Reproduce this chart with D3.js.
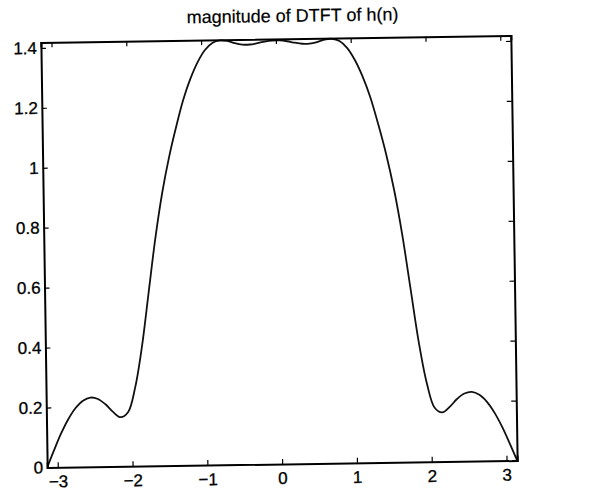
<!DOCTYPE html>
<html>
<head>
<meta charset="utf-8">
<style>
    body { margin: 0; background: #fff; }
    text { font-family: "Liberation Sans", Arial, sans-serif; fill: #000; }
</style>
</head>
<body>
<svg></svg>
<script src="https://cdn.jsdelivr.net/npm/d3@7"></script>
<script>
    // frequency samples (rad) and |H(w)|
    let omega = [-3.1416, -3.05, -2.95, -2.85, -2.75, -2.65, -2.55, -2.45, -2.35, -2.25,
        -2.15, -2.05, -1.95, -1.85, -1.75, -1.65, -1.55, -1.45, -1.35, -1.25,
        -1.15, -1.05, -0.95, -0.85, -0.75, -0.65, -0.55, -0.45, -0.35, -0.25,
        -0.15, -0.05, 0.05, 0.15, 0.25, 0.35, 0.45, 0.55, 0.65, 0.75,
        0.85, 0.95, 1.05, 1.15, 1.25, 1.35, 1.45, 1.55, 1.65, 1.75,
        1.85, 1.95, 2.05, 2.15, 2.25, 2.35, 2.45, 2.55, 2.65, 2.75,
        2.85, 2.95, 3.05, 3.1416];
    let magnitude = [0, 0.055, 0.112, 0.160, 0.197, 0.221, 0.231, 0.226, 0.208, 0.182,
        0.164, 0.180, 0.262, 0.40, 0.58, 0.76, 0.91, 1.03, 1.13, 1.22,
        1.29, 1.345, 1.385, 1.408, 1.416, 1.414, 1.406, 1.401, 1.401, 1.405,
        1.410, 1.413, 1.413, 1.410, 1.405, 1.401, 1.401, 1.406, 1.414, 1.416,
        1.408, 1.385, 1.345, 1.29, 1.22, 1.13, 1.03, 0.91, 0.76, 0.58,
        0.40, 0.262, 0.180, 0.164, 0.182, 0.208, 0.226, 0.231, 0.221, 0.197,
        0.160, 0.112, 0.055, 0];
    let xTicks = [-3, -2, -1, 0, 1, 2, 3];
    let yTicks = [0, 0.2, 0.4, 0.6, 0.8, 1, 1.2, 1.4];
    let title = "magnitude of DTFT of h(n)";

    let width = 600,
        height = 494;
    let plotL = 44, plotR = 514, plotT = 39, plotB = 464;

    let svg = d3.select("svg")
        .attr("width", width)
        .attr("height", height);

    // the scanned page is a little crooked
    let g = svg.append("g")
        .attr("transform", "rotate(-0.85," + (plotL + plotR) / 2 + "," + (plotT + plotB) / 2 + ")");

    let x = d3.scaleLinear().domain([-Math.PI, Math.PI]).range([plotL, plotR]);
    let y = d3.scaleLinear().domain([0, 1.418]).range([plotB, plotT]);

    g.append("clipPath").attr("id", "clip")
        .append("rect")
        .attr("x", plotL).attr("y", plotT - 1)
        .attr("width", plotR - plotL).attr("height", plotB - plotT + 1);

    let pts = omega.map(function (w, i) { return [w, magnitude[i]]; });

    g.append("path")
        .datum(pts)
        .attr("clip-path", "url(#clip)")
        .attr("fill", "none")
        .attr("stroke", "#111")
        .attr("stroke-width", 1.8)
        .attr("d", d3.line()
            .x(function (d) { return x(d[0]); })
            .y(function (d) { return y(d[1]); })
            .curve(d3.curveCatmullRom.alpha(0.5)));

    // box with inward ticks on every side
    let fmt = function (d) { return String(d).replace("-", "\u2212"); };

    let axB = g.append("g").attr("transform", "translate(0," + plotB + ")")
        .call(d3.axisBottom(x).tickValues(xTicks).tickSize(-5).tickPadding(8).tickFormat(fmt));
    let axT = g.append("g").attr("transform", "translate(0," + plotT + ")")
        .call(d3.axisTop(x).tickValues(xTicks).tickSize(-5).tickFormat(""));
    let axL = g.append("g").attr("transform", "translate(" + plotL + ",0)")
        .call(d3.axisLeft(y).tickValues(yTicks).tickSize(-5).tickPadding(4).tickFormat(function (d) { return d; }));
    let axR = g.append("g").attr("transform", "translate(" + plotR + ",0)")
        .call(d3.axisRight(y).tickValues(yTicks).tickSize(-5).tickFormat(""));

    [axB, axT, axL, axR].forEach(function (a) {
        a.select(".domain").attr("stroke", "#000").attr("stroke-width", 2);
        a.selectAll(".tick line").attr("stroke", "#000").attr("stroke-width", 1.2);
        a.selectAll("text").style("font-size", "17px").attr("fill", "#000")
            .attr("stroke", "#000").attr("stroke-width", 0.3)
            .style("font-family", "'Liberation Sans', Arial, sans-serif");
    });

    g.append("text")
        .attr("x", 296)
        .attr("y", 22)
        .attr("text-anchor", "middle")
        .style("font-size", "18px")
        .attr("stroke", "#000").attr("stroke-width", 0.2)
        .text(title);
</script>
</body>
</html>
